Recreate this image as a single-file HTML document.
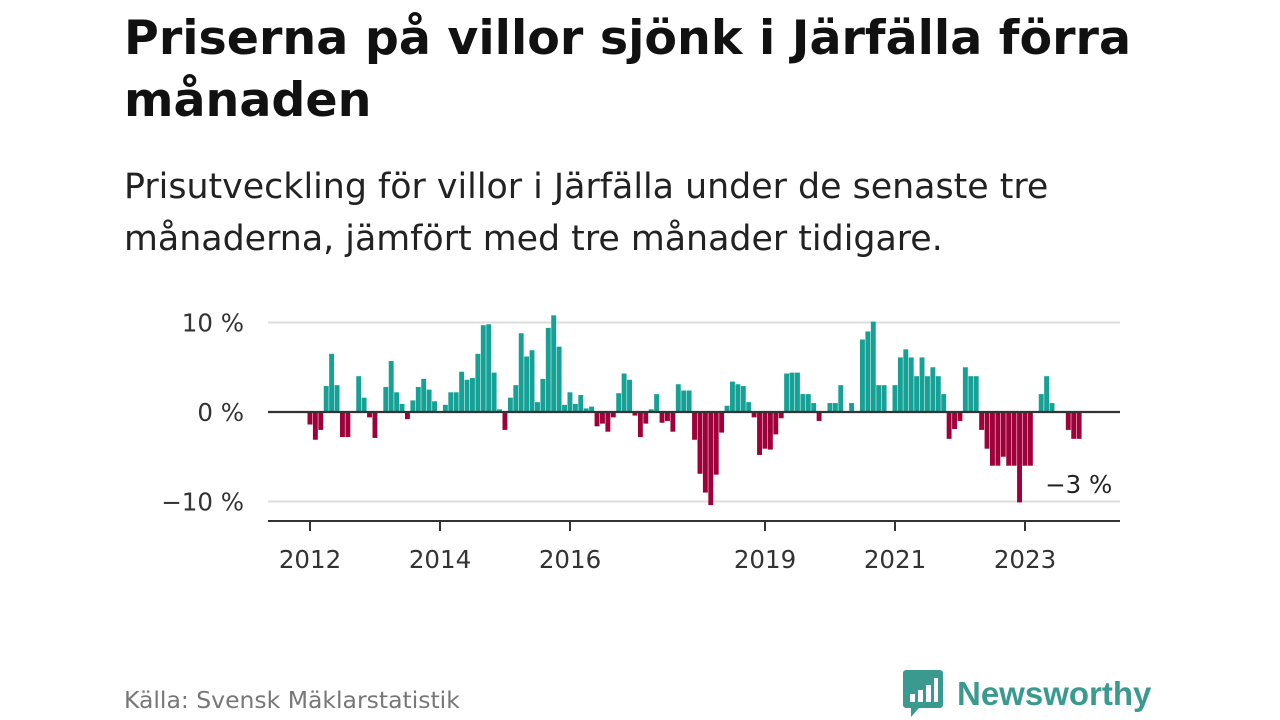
<!DOCTYPE html>
<html><head><meta charset="utf-8">
<style>
body{margin:0;width:1280px;height:720px;background:#fff;font-family:"DejaVu Sans","Liberation Sans",sans-serif;color:#111;overflow:hidden;position:relative}
#title{position:absolute;left:124px;top:8px;font-size:47.5px;font-weight:bold;line-height:62px;margin:0;width:1130px;color:#111}
#subtitle{position:absolute;left:124px;top:161px;font-size:34.8px;line-height:52px;margin:0;width:1000px;color:#222}
#source{position:absolute;left:124px;top:686px;font-size:23.5px;color:#777}
#logo{position:absolute;left:903px;top:670px;display:flex;align-items:center}
#logo span{font-family:"Liberation Sans",sans-serif;font-weight:bold;font-size:33px;color:#3a9a90;margin-left:14px}
svg{position:absolute;left:0;top:0}
</style></head><body>
<h1 id="title">Priserna på villor sjönk i Järfälla förra månaden</h1>
<p id="subtitle">Prisutveckling för villor i Järfälla under de senaste tre månaderna, jämfört med tre månader tidigare.</p>
<svg id="chart" width="1280" height="720"></svg>
<div id="source">Källa: Svensk Mäklarstatistik</div>
<div id="logo">
<svg width="40" height="48" viewBox="0 0 40 48" style="position:static">
<path d="M3 0h34a3 3 0 0 1 3 3v32a3 3 0 0 1-3 3H16l-8 9v-9H3a3 3 0 0 1-3-3V3a3 3 0 0 1 3-3z" fill="#3a9a90"/>
<rect x="7" y="24" width="5" height="8" fill="#fff"/><rect x="15" y="20" width="5" height="12" fill="#fff"/><rect x="23" y="15" width="5" height="17" fill="#fff"/><rect x="31" y="8" width="4" height="24" fill="#fff"/>
</svg><span>Newsworthy</span></div>
<script>
const values = [-1.4,-3.1,-2.0,2.9,6.5,3.0,-2.8,-2.8,0,4.0,1.6,-0.6,-2.9,0,2.8,5.7,2.2,0.9,-0.8,1.3,2.8,3.7,2.5,1.2,
0,0.8,2.2,2.2,4.5,3.6,3.8,6.5,9.7,9.8,4.4,0.3,-2.0,1.6,3.0,8.8,6.2,6.9,1.1,3.7,9.4,10.8,7.3,0.8,
2.2,0.9,1.9,0.4,0.6,-1.6,-1.3,-2.2,-0.6,2.1,4.3,3.6,-0.4,-2.8,-1.3,0.3,2.0,-1.2,-1.0,-2.2,3.1,2.4,2.4,-3.1,
-6.9,-9.0,-10.4,-7.0,-2.3,0.7,3.4,3.1,2.9,1.1,-0.6,-4.8,-4.1,-4.2,-2.5,-0.7,4.3,4.4,4.4,2.0,2.0,1.0,-1.0,0,
1.0,1.0,3.0,0,1.0,0,8.1,9.0,10.1,3.0,3.0,0,3.0,6.1,7.0,6.1,4.0,6.1,4.0,5.0,4.0,2.0,-3.0,-1.9,-1.0,5.0,4.0,4.0,
-2.0,-4.1,-6.0,-6.0,-5.0,-6.0,-6.0,-10.1,-6.0,-6.0,0,2.0,4.0,1.0,0,0,-2.0,-3.0,-3.0];
const startYear = 2012;
const yTicks = [10,0,-10];
const yTickLabels = ["10 %","0 %","−10 %"];
const xTickYears = [2012,2014,2016,2019,2021,2023];
const lastLabel = "−3 %";
const NS="http://www.w3.org/2000/svg";
const svg=document.getElementById('chart');
const x0=310, pxMonth=65/12, zeroY=412, pxPct=8.95, left=268, right=1120;
const xScale=i=>x0+i*pxMonth;
const yScale=v=>zeroY-v*pxPct;
function mk(t,a){const e=document.createElementNS(NS,t);for(const k in a)e.setAttribute(k,a[k]);svg.appendChild(e);return e;}
yTicks.forEach((t,k)=>{
 if(t!==0){const g=mk('line',{x1:left,x2:right,y1:yScale(t),y2:yScale(t),stroke:'#ddd','stroke-width':2});
 
 }
 const l=mk('text',{x:244,y:yScale(t)+9,'text-anchor':'end','font-size':24.5,fill:'#333','font-family':'DejaVu Sans, sans-serif'});
 l.textContent=yTickLabels[k];
 
 
});
values.forEach((v,i)=>{
 if(v===0)return;
 const y=v>0?yScale(v):zeroY;
 const r=mk('rect',{x:xScale(i)-2.5,y:y,width:4.9,height:Math.abs(yScale(v)-zeroY),fill:v>0?'#15a195':'#a0003a'});
 
 
});
const z=mk('line',{x1:left,x2:right,y1:zeroY,y2:zeroY,stroke:'#333','stroke-width':2.2});


const ax=mk('line',{x1:left,x2:right,y1:521,y2:521,stroke:'#333','stroke-width':2});


xTickYears.forEach(yr=>{
 const x=xScale((yr-startYear)*12);
 const t=mk('line',{x1:x,x2:x,y1:521,y2:531,stroke:'#333','stroke-width':2});
 
 
 const l=mk('text',{x:x,y:568,'text-anchor':'middle','font-size':24.5,fill:'#333','font-family':'DejaVu Sans, sans-serif'});
 l.textContent=yr;
 
 
});
const li=values.length-1;
const ll=mk('text',{x:xScale(li)-34,y:yScale(values[li])+54,'font-size':24.5,fill:'#222','font-family':'DejaVu Sans, sans-serif'});
ll.textContent=lastLabel;


</script>
</body></html>
